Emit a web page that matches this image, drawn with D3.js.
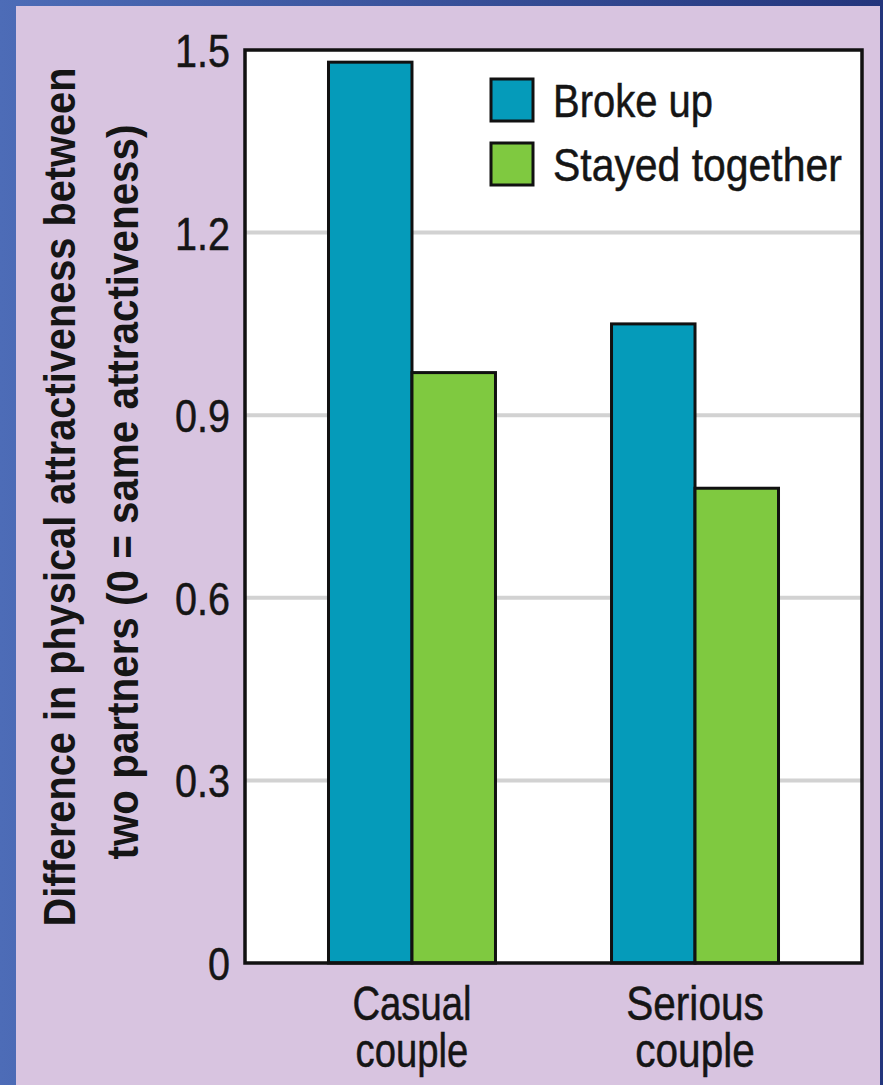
<!DOCTYPE html>
<html>
<head>
<meta charset="utf-8">
<script src="https://cdn.jsdelivr.net/npm/d3@7"></script>
<style>
  body { margin: 0; background: #3f5aa5; }
  svg { display: block; }
  text { font-family: "Liberation Sans", Arial, sans-serif; fill: #151515; }
  .heavy { stroke: #151515; stroke-width: 0.5; }
</style>
</head>
<body>
<svg id="chart" width="883" height="1085"></svg>
<script>
"use strict";

// donnees
var categories = ["Casual couple", "Serious couple"];
var categoryLines = [["Casual", "couple"], ["Serious", "couple"]];
var seriesNames = ["Broke up", "Stayed together"];
var brokeUp = [1.48, 1.05];
var stayedTogether = [0.97, 0.78];
var yTicks = [0, 0.3, 0.6, 0.9, 1.2, 1.5];
var yTitleLines = ["Difference in physical attractiveness between", "two partners (0 = same attractiveness)"];

var colors = { "Broke up": "#059bba", "Stayed together": "#7fc940" };

// largeurs mesurees du texte condense (police narrow absente)
var yTitleWidths = [859, 735];
var legendWidths = [160, 289];
var catWidths = [[117, 115], [137, 120]];
var narrow = 0.86;

var svg = d3.select("#chart");
var W = 883, H = 1085;
var plot = { left: 245, top: 50, right: 862, bottom: 963 };

/**
 * Place un texte et le compresse horizontalement a la largeur voulue.
 */
function fitText(parent, str, x, y, width, opts) {
  var t = parent.append("text")
    .text(str)
    .attr("font-size", opts.size)
    .attr("font-weight", opts.weight || null)
    .attr("text-anchor", opts.anchor || "start")
    .attr("class", opts.cls || null);
  var k = width / t.node().getComputedTextLength();
  t.attr("transform", "translate(" + x + "," + y + ")" +
    (opts.rotate ? " rotate(" + opts.rotate + ")" : "") + " scale(" + k + ",1)");
  return t;
}

// fond bleu + panneau lavande
var defs = svg.append("defs");
var grad = defs.append("linearGradient").attr("id", "bg").attr("x1", 0).attr("x2", 1).attr("y1", 0).attr("y2", 0);
grad.append("stop").attr("offset", 0).attr("stop-color", "#4d6cb7");
grad.append("stop").attr("offset", 1).attr("stop-color", "#23357c");
svg.append("rect").attr("width", W).attr("height", H).attr("fill", "url(#bg)");
svg.append("rect").attr("x", 16).attr("y", 6).attr("width", 864).attr("height", H - 6).attr("fill", "#d8c4e0");

var y = d3.scaleLinear().domain([0, 1.5]).range([plot.bottom, plot.top]);
var x0 = d3.scaleBand().domain(categories).range([plot.left, plot.right]).paddingInner(0.41).paddingOuter(0.295);
var x1 = d3.scaleBand().domain(seriesNames).range([0, x0.bandwidth()]);

// zone du graphique
svg.append("rect")
  .attr("x", plot.left).attr("y", plot.top)
  .attr("width", plot.right - plot.left).attr("height", plot.bottom - plot.top)
  .attr("fill", "#fff");

svg.append("g").selectAll("line")
  .data(yTicks.filter(function (d) { return d > 0 && d < 1.5; }))
  .enter().append("line")
  .attr("x1", plot.left).attr("x2", plot.right)
  .attr("y1", function (d) { return y(d); }).attr("y2", function (d) { return y(d); })
  .attr("stroke", "#d2d2d2").attr("stroke-width", 4);

// barres
var rows = categories.map(function (c, i) {
  return { cat: c, values: [{ key: "Broke up", v: brokeUp[i] }, { key: "Stayed together", v: stayedTogether[i] }] };
});

var groups = svg.append("g").selectAll("g")
  .data(rows).enter().append("g")
  .attr("transform", function (d) { return "translate(" + x0(d.cat) + ",0)"; });

groups.selectAll("rect")
  .data(function (d) { return d.values; })
  .enter().append("rect")
  .attr("x", function (d) { return x1(d.key); })
  .attr("y", function (d) { return y(d.v); })
  .attr("width", x1.bandwidth())
  .attr("height", function (d) { return y(0) - y(d.v); })
  .attr("fill", function (d) { return colors[d.key]; })
  .attr("stroke", "#111").attr("stroke-width", 3);

// cadre
svg.append("rect")
  .attr("x", plot.left).attr("y", plot.top)
  .attr("width", plot.right - plot.left).attr("height", plot.bottom - plot.top)
  .attr("fill", "none").attr("stroke", "#111").attr("stroke-width", 3.5);

// axe y
var yAxis = svg.append("g")
  .attr("transform", "translate(" + plot.left + ",0)")
  .call(d3.axisLeft(y).tickValues(yTicks).tickSize(0).tickPadding(15)
    .tickFormat(function (d) { return d === 0 ? "0" : d3.format(".1f")(d); }));
yAxis.select(".domain").remove();
yAxis.selectAll("text")
  .attr("font-size", 46)
  .attr("font-family", null)
  .attr("fill", "#151515")
  .attr("class", "heavy")
  .attr("x", -15 / narrow)
  .attr("transform", "scale(" + narrow + ",1)")
  .attr("dy", "0.36em");

// titre axe y
var titleG = svg.append("g");
yTitleLines.forEach(function (line, i) {
  fitText(titleG, line, i === 0 ? 75 : 138, i === 0 ? 497 : 492, yTitleWidths[i],
    { size: 45, weight: "bold", anchor: "middle", rotate: -90 });
});

// etiquettes x : un seul texte par categorie, deux lignes
var xG = svg.append("g");
categories.forEach(function (c, j) {
  var cx = x0(c) + x0.bandwidth() / 2;
  var t = xG.append("text")
    .attr("font-size", 48)
    .attr("text-anchor", "middle")
    .attr("class", "heavy");
  var spans = categoryLines[j].map(function (line, i) {
    return t.append("tspan").attr("x", 0).attr("y", 1020 + i * 47).text(line);
  });
  var ratios = spans.map(function (s, i) { return catWidths[j][i] / s.node().getComputedTextLength(); });
  t.attr("transform", "translate(" + cx + ",0) scale(" + d3.mean(ratios) + ",1)");
});

// legende
var legend = svg.append("g").selectAll("g")
  .data(seriesNames).enter().append("g")
  .attr("transform", function (d, i) { return "translate(491," + (79 + i * 64) + ")"; });
legend.append("rect")
  .attr("width", 42).attr("height", 42)
  .attr("fill", function (d) { return colors[d]; })
  .attr("stroke", "#111").attr("stroke-width", 3);
legend.each(function (d, i) {
  fitText(d3.select(this), d, 62, 38, legendWidths[i], { size: 47, cls: "heavy" });
});
</script>
</body>
</html>
